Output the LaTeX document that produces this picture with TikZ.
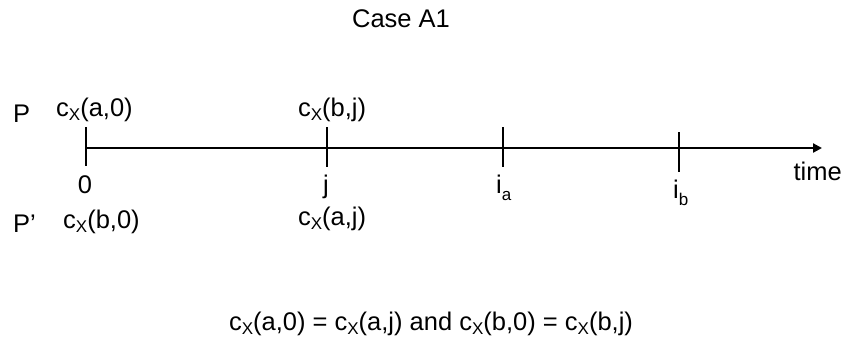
\documentclass[tikz,border=0pt]{standalone}
\usepackage{fontspec}
\setmainfont{Liberation Sans}
\usetikzlibrary{arrows.meta}
\newcommand{\lowsub}[2][4pt]{\raisebox{-#1}{\fontsize{17}{17}\selectfont #2}}
\tikzset{
  lbl/.style={inner sep=0pt, font=\fontsize{25.5}{30}\selectfont},
  axisline/.style={line width=2.2pt, -{Triangle[length=9pt,width=9pt]}},
  tickline/.style={line width=2.2pt}
}
\begin{document}
\begin{tikzpicture}[x=1pt,y=-1pt]
\path[use as bounding box] (0,0) rectangle (845,341);
% title
\node[lbl, anchor=base] (title) at (401,27) {Case A1};
% axis
\coordinate (start) at (86,148);
\coordinate (end) at (822,148);
\draw[axisline] (start) -- (end);
% ticks
\coordinate (t0a) at (86,127);  \coordinate (t0b) at (86,166);
\coordinate (tja) at (327,127); \coordinate (tjb) at (327,167);
\coordinate (taa) at (503,127); \coordinate (tab) at (503,167);
\coordinate (tba) at (679,132); \coordinate (tbb) at (679,172);
\draw[tickline] (t0a) -- (t0b);
\draw[tickline] (tja) -- (tjb);
\draw[tickline] (taa) -- (tab);
\draw[tickline] (tba) -- (tbb);
% upper labels
\node[lbl, anchor=base west] (P) at (13,122) {P};
\node[lbl, anchor=base west] (ca0) at (56,116) {c\lowsub{X}(a,0)};
\node[lbl, anchor=base] (cbj) at (332,116) {c\lowsub{X}(b,j)};
% tick labels
\node[lbl, anchor=base] (zero) at (85,193) {0};
\node[lbl, anchor=base] (jl) at (326,193) {j};
\node[lbl, anchor=base west] (ia) at (496,193) {i\lowsub[7pt]{a}};
\node[lbl, anchor=base west] (ib) at (673,198) {i\lowsub[7pt]{b}};
\node[lbl, anchor=base east] (time) at (842,180) {time};
% lower labels
\node[lbl, anchor=base west] (Pp) at (13,232) {P’};
\node[lbl, anchor=base west] (cb0) at (63,228) {c\lowsub{X}(b,0)};
\node[lbl, anchor=base] (caj) at (332,225) {c\lowsub{X}(a,j)};
% equation
\node[lbl, anchor=base] (eq) at (431,330) {c\lowsub{X}(a,0) = c\lowsub{X}(a,j) and c\lowsub{X}(b,0) = c\lowsub{X}(b,j)};
\end{tikzpicture}
\end{document}
